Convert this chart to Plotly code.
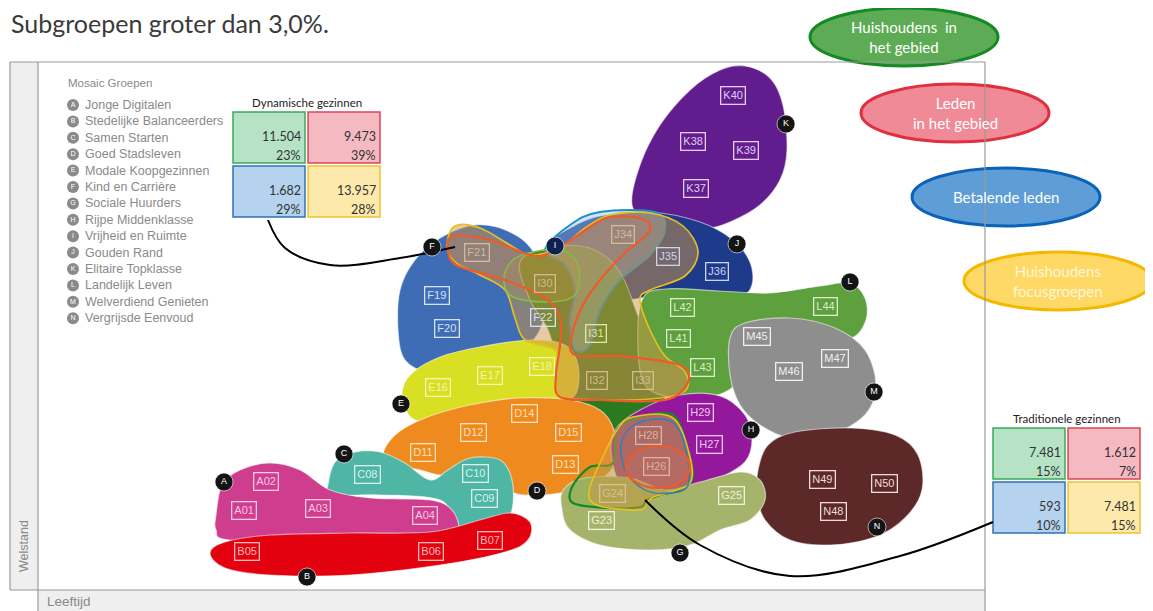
import plotly.graph_objects as go

# ---------------- data ----------------
TITLE = "Subgroepen groter dan 3,0%."
GROUP_CODES = list("ABCDEFGHIJKLMN")
GROUP_NAMES = ["Jonge Digitalen", "Stedelijke Balanceerders", "Samen Starten", "Goed Stadsleven",
               "Modale Koopgezinnen", "Kind en Carrière", "Sociale Huurders", "Rijpe Middenklasse",
               "Vrijheid en Ruimte", "Gouden Rand", "Elitaire Topklasse", "Landelijk Leven",
               "Welverdiend Genieten", "Vergrijsde Eenvoud"]
GROUP_COLORS = {"A": "#cf3d8e", "B": "#e3000f", "C": "#4fb5a5", "D": "#ef8b1e", "E": "#d9df22",
                "F": "#3e6db5", "G": "#a6b46b", "H": "#94189c", "I": "#2b7a1f", "J": "#1e3a8a",
                "K": "#611d8e", "L": "#5fa03e", "M": "#8e8e8e", "N": "#5c2828"}
LABEL_COLORS = {"A": "#f6c9e2", "B": "#ffb8b8", "C": "#d8f2ed", "D": "#fde0c0", "E": "#f4f6b2",
                "F": "#d5e3f7", "G": "#eef2d8", "H": "#f2c8f2", "I": "#dfe8a8", "J": "#cbd5f2",
                "K": "#e4cbf2", "L": "#d9efca", "M": "#f0f0f0", "N": "#f2dada"}

# group letter markers (position of the black dots)
GROUP_DOT_X = [224, 307, 344, 537, 401, 432, 680, 751, 555, 737, 786, 850, 874, 877]
GROUP_DOT_Y = [482, 577, 454, 491, 404, 247, 553, 430, 246, 244, 124, 282, 392, 527]

# blob outlines (control points of smooth closed curves)
K_X = [632, 640, 660, 690, 720, 745, 770, 783, 787, 780, 760, 730, 705, 680, 650]
K_Y = [205, 165, 125, 90, 70, 66, 78, 105, 150, 180, 205, 222, 229, 228, 220]
J_X = [548, 570, 600, 650, 700, 733, 750, 752, 740, 700, 660, 620, 580, 555]
J_Y = [245, 228, 216, 212, 222, 240, 262, 285, 295, 292, 295, 300, 290, 270]
F_X = [398, 400, 415, 440, 475, 510, 535, 545, 535, 505, 470, 430, 405]
F_Y = [330, 290, 260, 238, 225, 232, 255, 305, 338, 357, 368, 372, 360]
I_X = [520, 550, 590, 620, 640, 660, 668, 650, 620, 595, 572, 560, 548, 530]
I_Y = [262, 248, 248, 272, 320, 355, 390, 420, 440, 432, 405, 370, 330, 300]
L_X = [642, 665, 720, 770, 820, 850, 865, 866, 852, 815, 770, 745, 735, 710, 670, 645, 638]
L_Y = [300, 289, 291, 293, 286, 283, 298, 320, 338, 343, 345, 360, 385, 397, 397, 385, 350]
M_X = [730, 745, 790, 835, 865, 876, 865, 830, 790, 760, 740, 730]
M_Y = [338, 323, 318, 328, 350, 385, 415, 435, 438, 425, 405, 375]
N_X = [758, 768, 795, 850, 895, 918, 922, 905, 875, 830, 790, 765, 757]
N_Y = [470, 445, 432, 428, 435, 455, 490, 518, 537, 545, 540, 520, 495]
E_X = [402, 410, 440, 480, 530, 565, 578, 575, 550, 500, 450, 415]
E_Y = [398, 375, 357, 347, 340, 345, 365, 395, 405, 410, 418, 420]
D_X = [383, 395, 425, 470, 520, 570, 600, 614, 616, 600, 565, 535, 512, 495, 470, 445, 420, 395]
D_Y = [455, 435, 418, 405, 398, 400, 410, 430, 460, 480, 492, 495, 492, 470, 462, 475, 470, 465]
C_X = [328, 335, 355, 380, 405, 430, 448, 470, 500, 512, 512, 500, 470, 455, 440, 380, 330]
C_Y = [485, 462, 452, 452, 463, 480, 470, 458, 460, 480, 510, 528, 533, 525, 500, 495, 495]
A_X = [216, 222, 240, 270, 300, 330, 370, 430, 452, 458, 440, 330, 230, 216]
A_Y = [515, 485, 470, 463, 470, 490, 498, 500, 510, 530, 540, 542, 540, 530]
B_X = [210, 225, 270, 350, 430, 480, 510, 530, 528, 505, 440, 350, 270, 225]
B_Y = [553, 542, 535, 533, 532, 520, 513, 522, 540, 552, 565, 575, 575, 568]
H_X = [615, 640, 680, 720, 745, 752, 745, 720, 690, 655, 625, 612]
H_Y = [430, 410, 395, 396, 415, 440, 462, 478, 490, 498, 490, 460]
G_X = [563, 585, 630, 665, 700, 740, 760, 765, 750, 720, 690, 650, 600, 570, 562]
G_Y = [490, 478, 478, 490, 482, 472, 480, 500, 520, 530, 545, 550, 545, 530, 510]
BLOB_ORDER = ["K", "J", "F", "I", "L", "M", "N", "E", "D", "C", "A", "B", "H", "G"]
BLOB_X = {"A": A_X, "B": B_X, "C": C_X, "D": D_X, "E": E_X, "F": F_X, "G": G_X,
          "H": H_X, "I": I_X, "J": J_X, "K": K_X, "L": L_X, "M": M_X, "N": N_X}
BLOB_Y = {"A": A_Y, "B": B_Y, "C": C_Y, "D": D_Y, "E": E_Y, "F": F_Y, "G": G_Y,
          "H": H_Y, "I": I_Y, "J": J_Y, "K": K_Y, "L": L_Y, "M": M_Y, "N": N_Y}

# highlighted (overlay) areas
OV_BLUE_X = [545, 570, 600, 655, 665, 650, 620, 600, 590, 575, 570, 575, 565]
OV_BLUE_Y = [250, 225, 212, 212, 230, 255, 280, 310, 345, 350, 320, 290, 265]
OV_YEL_X = [455, 480, 510, 530, 560, 585, 610, 650, 683, 698, 685, 650, 640, 650, 665, 685, 686, 660, 600, 560, 557, 555, 525, 515, 505, 480, 455, 447]
OV_YEL_Y = [226, 228, 245, 255, 248, 228, 215, 213, 226, 252, 276, 290, 300, 330, 356, 372, 390, 398, 400, 395, 370, 350, 340, 318, 290, 275, 262, 245]
OV_RED_X = [453, 490, 530, 552, 590, 610, 643, 649, 625, 600, 583, 572, 575, 620, 680, 688, 665, 600, 560, 556, 560, 560, 545, 505, 458, 448]
OV_RED_Y = [236, 240, 255, 252, 227, 217, 219, 232, 253, 280, 305, 335, 355, 356, 365, 382, 400, 400, 397, 375, 345, 318, 298, 280, 266, 250]
OV_GRN_X = [505, 522, 560, 578, 575, 545, 510]
OV_GRN_Y = [272, 255, 250, 265, 295, 302, 295]
LOW_GRN_X = [572, 590, 613, 617, 640, 673, 687, 693, 680, 660, 647, 640, 607, 573]
LOW_GRN_Y = [487, 467, 463, 430, 417, 415, 447, 477, 490, 495, 500, 507, 508, 503]
LOW_YEL_X = [590, 600, 617, 633, 673, 690, 690, 667, 653, 647, 640, 603, 590]
LOW_YEL_Y = [487, 463, 430, 417, 418, 457, 483, 493, 497, 503, 510, 507, 500]
LOW_BLUE_X = [622, 640, 672, 686, 688, 670, 645, 625]
LOW_BLUE_Y = [440, 422, 422, 450, 485, 493, 490, 470]
RED_ELLIPSE = [626, 446, 690, 488]  # x0, y0, x1, y1

# subgroup labels
SUB_CODES = ["A01", "A02", "A03", "A04", "B05", "B06", "B07", "C08", "C09", "C10",
             "D11", "D12", "D13", "D14", "D15", "E16", "E17", "E18", "F19", "F20", "F21", "F22",
             "G23", "G24", "G25", "H26", "H27", "H28", "H29", "I30", "I31", "I32", "I33",
             "J34", "J35", "J36", "K37", "K38", "K39", "K40", "L41", "L42", "L43", "L44",
             "M45", "M46", "M47", "N48", "N49", "N50"]
SUB_X = [244, 266, 318, 425, 247, 431, 490, 367, 484, 475,
         423, 473, 565, 524, 568, 438, 490, 542, 437, 447, 477, 543,
         601, 612, 731, 656, 709, 648, 700, 545, 596, 597, 643,
         623, 668, 717, 696, 693, 746, 733, 678, 682, 702, 825,
         757, 789, 835, 833, 822, 884]
SUB_Y = [510, 481, 508, 515, 551, 551, 540, 474, 498, 473,
         452, 432, 464, 413, 432, 387, 375, 366, 295, 328, 252, 317,
         520, 493, 495, 466, 444, 435, 412, 283, 333, 380, 380,
         234, 256, 271, 188, 141, 150, 95, 338, 307, 367, 306,
         336, 371, 358, 511, 479, 483]
FADED_SUBS = ["F21", "I30", "J34", "I32", "I33", "H28", "H26", "G24"]

# summary boxes
DYN_TITLE = "Dynamische gezinnen"
DYN_VALUES = ["11.504", "9.473", "1.682", "13.957"]
DYN_PCTS = ["23%", "39%", "29%", "28%"]
TRAD_TITLE = "Traditionele gezinnen"
TRAD_VALUES = ["7.481", "1.612", "593", "7.481"]
TRAD_PCTS = ["15%", "7%", "10%", "15%"]
CELL_FILLS = ["#b6e3c6", "#f5b9c2", "#b5d3ee", "#fde9ab"]
CELL_LINES = ["#3ba85a", "#d9475a", "#2e73b5", "#f0c230"]

# legend ellipses
ELL_TEXT = ["Huishoudens  in<br>het gebied", "Leden<br>in het gebied", "Betalende leden",
            "Huishoudens<br>focusgroepen"]
ELL_FILL = ["#5eab55", "#ef8a96", "#5e9dd6", "#ffd966"]
ELL_LINE = ["#138a25", "#e0303f", "#0a63b8", "#f5b800"]
ELL_CX = [904, 955, 1006, 1058]
ELL_CY = [37, 113, 197, 281]

# connector lines
CON1_X = [268, 285, 330, 400, 455]
CON1_Y = [220, 248, 265, 258, 247]
CON2_X = [645, 700, 790, 900, 993]
CON2_Y = [500, 545, 576, 556, 522]

W, H = 1153, 611
PAGE_MARGIN = 8  # default body margin of the html page


def closed_path(xs, ys):
    n = len(xs)
    parts = [f"M {xs[0]},{ys[0]}"]
    for i in range(n):
        x0, y0 = xs[(i - 1) % n], ys[(i - 1) % n]
        x1, y1 = xs[i], ys[i]
        x2, y2 = xs[(i + 1) % n], ys[(i + 1) % n]
        x3, y3 = xs[(i + 2) % n], ys[(i + 2) % n]
        c1x, c1y = x1 + (x2 - x0) / 6, y1 + (y2 - y0) / 6
        c2x, c2y = x2 - (x3 - x1) / 6, y2 - (y3 - y1) / 6
        parts.append(f"C {c1x:.1f},{c1y:.1f} {c2x:.1f},{c2y:.1f} {x2},{y2}")
    parts.append("Z")
    return " ".join(parts)


shapes = []
ann = []
CAL = "Lato, Open Sans, sans-serif"
ARI = "Liberation Sans, Arial, sans-serif"

# frame
shapes.append(dict(type="rect", x0=10, x1=38, y0=62, y1=590, fillcolor="#efefef", line_width=0, layer="below"))
shapes.append(dict(type="rect", x0=38, x1=985, y0=590, y1=611, fillcolor="#efefef", line_width=0, layer="below"))

# blobs
for g in BLOB_ORDER:
    shapes.append(dict(type="path", path=closed_path(BLOB_X[g], BLOB_Y[g]), fillcolor=GROUP_COLORS[g],
                       line=dict(color="rgba(255,255,255,0.55)", width=1.2), layer="below"))

# overlays
shapes.append(dict(type="path", path=closed_path(OV_BLUE_X, OV_BLUE_Y), fillcolor="rgba(150,200,240,0.45)",
                   line=dict(color="#1a8fc8", width=2), layer="below"))
shapes.append(dict(type="path", path=closed_path(OV_YEL_X, OV_YEL_Y), fillcolor="rgba(205,150,70,0.5)",
                   line=dict(color="#e8c020", width=1.6), layer="below"))
shapes.append(dict(type="path", path=closed_path(OV_GRN_X, OV_GRN_Y), fillcolor="rgba(190,160,60,0.2)",
                   line=dict(color="#7cc04a", width=1.6), layer="below"))
shapes.append(dict(type="path", path=closed_path(OV_RED_X, OV_RED_Y), fillcolor="rgba(230,120,90,0.12)",
                   line=dict(color="#ee5a2a", width=2.2), layer="below"))
shapes.append(dict(type="path", path=closed_path(LOW_GRN_X, LOW_GRN_Y), fillcolor="rgba(120,170,60,0.25)",
                   line=dict(color="#138a25", width=2.2), layer="below"))
shapes.append(dict(type="path", path=closed_path(LOW_YEL_X, LOW_YEL_Y), fillcolor="rgba(205,150,70,0.5)",
                   line=dict(color="#e8c020", width=1.6), layer="below"))
shapes.append(dict(type="path", path=closed_path(LOW_BLUE_X, LOW_BLUE_Y), fillcolor="rgba(0,0,0,0)",
                   line=dict(color="#2a7fc0", width=1.4), layer="below"))
shapes.append(dict(type="circle", x0=RED_ELLIPSE[0], y0=RED_ELLIPSE[1], x1=RED_ELLIPSE[2], y1=RED_ELLIPSE[3],
                   fillcolor="rgba(230,120,90,0.15)", line=dict(color="#ee5a2a", width=2.2), layer="below"))

# legend ellipses (top right)
for i in range(4):
    shapes.append(dict(type="circle", x0=ELL_CX[i] - 94, x1=ELL_CX[i] + 94, y0=ELL_CY[i] - 29, y1=ELL_CY[i] + 29,
                       fillcolor=ELL_FILL[i], line=dict(color=ELL_LINE[i], width=3), layer="below"))
    ann.append(dict(x=ELL_CX[i], y=ELL_CY[i], text=ELL_TEXT[i], showarrow=False,
                    font=dict(family=CAL, size=15, color="white" if i < 3 else "#fff6d8")))

# frame lines (drawn above ellipses)
frame_lines = [(10, 62, 985, 62), (10, 62, 10, 590), (38, 62, 38, 611), (10, 590, 985, 590), (985, 62, 985, 611)]
for (xa, ya, xb, yb) in frame_lines:
    shapes.append(dict(type="line", x0=xa, y0=ya, x1=xb, y1=yb, line=dict(color="#9a9a9a", width=1.2), layer="below"))

# summary boxes
def box(x_left, y_top, title, values, pcts):
    cw, ch, gap = 72, 51, 3
    ann.append(dict(x=x_left + cw + gap / 2, y=y_top - 10, text=title, showarrow=False,
                    font=dict(family=CAL, size=11.5, color="#222")))
    for k in range(4):
        cx = x_left + (k % 2) * (cw + gap)
        cy = y_top + (k // 2) * (ch + gap)
        shapes.append(dict(type="rect", x0=cx, x1=cx + cw, y0=cy, y1=cy + ch, fillcolor=CELL_FILLS[k],
                           line=dict(color=CELL_LINES[k], width=1.5), layer="below"))
        ann.append(dict(x=cx + cw - 2, y=cy + 24, text=values[k], showarrow=False, xanchor="right",
                        font=dict(family=CAL, size=12.5, color="#333")))
        ann.append(dict(x=cx + cw - 2, y=cy + 43, text=pcts[k], showarrow=False, xanchor="right",
                        font=dict(family=CAL, size=12.5, color="#333")))

box(233, 112, DYN_TITLE, DYN_VALUES, DYN_PCTS)
box(993, 428, TRAD_TITLE, TRAD_VALUES, TRAD_PCTS)

# subgroup labels
for code, x, y in zip(SUB_CODES, SUB_X, SUB_Y):
    col = "rgba(222,196,165,0.85)" if code in FADED_SUBS else LABEL_COLORS[code[0]]
    ann.append(dict(x=x, y=y, text=code, showarrow=False, font=dict(family=ARI, size=11, color=col),
                    bordercolor=col, borderwidth=1.3, borderpad=2))

# legend text
ann.append(dict(x=66, y=83, text="Mosaic Groepen", showarrow=False, xanchor="left",
                font=dict(family=ARI, size=11.5, color="#8a8a8a")))
LEG_Y = [105 + i * 16.4 for i in range(14)]
for name, y in zip(GROUP_NAMES, LEG_Y):
    ann.append(dict(x=83, y=y, text=name, showarrow=False, xanchor="left",
                    font=dict(family=ARI, size=12.5, color="#8a8a8a")))

# title and axis titles
ann.append(dict(x=9, y=23, text=TITLE, showarrow=False, xanchor="left",
                font=dict(family=CAL, size=25, color="#3a3a3a")))
ann.append(dict(x=24, y=546, text="Welstand", showarrow=False, textangle=-90,
                font=dict(family=ARI, size=12.5, color="#888")))
ann.append(dict(x=45, y=601, text="Leeftijd", showarrow=False, xanchor="left",
                font=dict(family=ARI, size=13.5, color="#888")))

fig = go.Figure()
fig.add_trace(go.Scatter(x=CON1_X, y=CON1_Y, mode="lines", line=dict(color="black", width=2, shape="spline"),
                         hoverinfo="skip"))
fig.add_trace(go.Scatter(x=CON2_X, y=CON2_Y, mode="lines", line=dict(color="black", width=2, shape="spline"),
                         hoverinfo="skip"))
dot_colors = ["#0d2250" if c == "I" else "#141414" for c in GROUP_CODES]
fig.add_trace(go.Scatter(x=GROUP_DOT_X, y=GROUP_DOT_Y, mode="markers+text", text=GROUP_CODES,
                         textposition="middle center",
                         marker=dict(size=18, color=dot_colors, line=dict(color="rgba(255,255,255,0.6)", width=1)),
                         textfont=dict(family=ARI, size=9, color="white"), hoverinfo="skip"))
fig.add_trace(go.Scatter(x=[73] * 14, y=LEG_Y, mode="markers+text", text=GROUP_CODES,
                         textposition="middle center", marker=dict(size=12, color="#8a8a8a"),
                         textfont=dict(family=ARI, size=7, color="white"), hoverinfo="skip"))

# the page adds an 8px body margin; shrink the figure and shift the ranges so that
# data coordinates coincide with window pixels
fig.update_layout(width=W - PAGE_MARGIN, height=H - PAGE_MARGIN, margin=dict(l=0, r=0, t=0, b=0),
                  showlegend=False, paper_bgcolor="white", plot_bgcolor="white",
                  shapes=shapes, annotations=ann,
                  xaxis=dict(range=[PAGE_MARGIN, W], visible=False, fixedrange=True),
                  yaxis=dict(range=[H, PAGE_MARGIN], visible=False, fixedrange=True))
fig.write_html("out.html")
